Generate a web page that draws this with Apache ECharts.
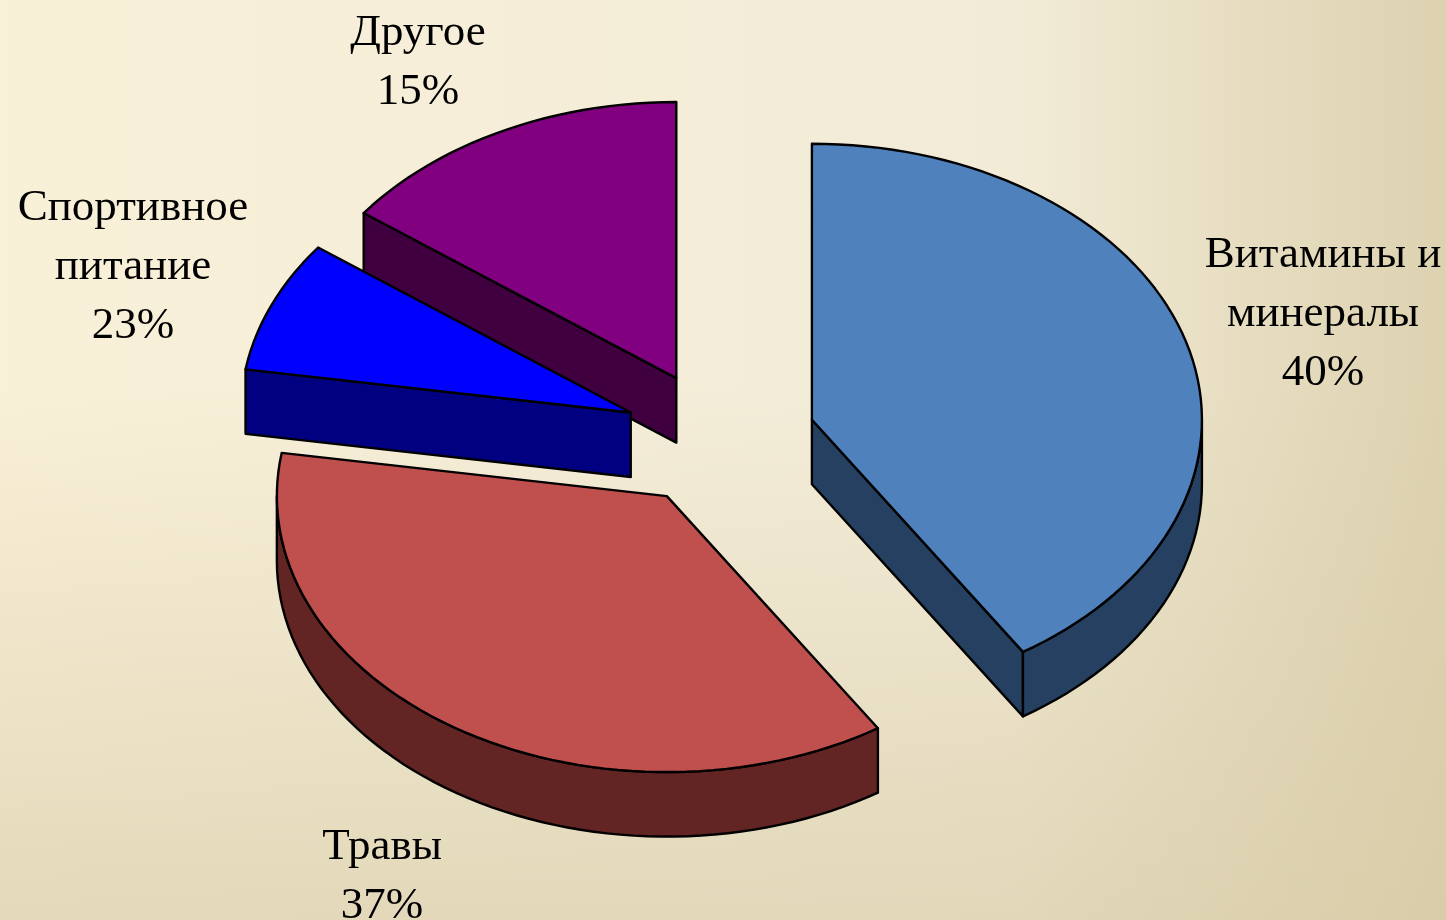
<!DOCTYPE html>
<html>
<head>
<meta charset="utf-8">
<title>Chart</title>
<script src="https://cdn.jsdelivr.net/npm/echarts@6/dist/echarts.min.js"></script>
<style>
  html, body { margin: 0; padding: 0; }
  #main {
    width: 1446px;
    height: 920px;
    background:
      linear-gradient(to right, rgba(214, 201, 163, 0) 70%, rgba(214, 201, 163, 0.72) 100%),
      linear-gradient(to bottom, rgba(216, 204, 168, 0) 42%, rgba(216, 204, 168, 0.64) 100%),
      linear-gradient(to right, #F9F0D8 0%, #F3ECD8 60%, #F0E9D2 100%);
  }
</style>
</head>
<body>
<div id="main"></div>
<script>
// data
const categories = ['Витамины и\nминералы', 'Травы', 'Спортивное\nпитание', 'Другое'];
const sliceShares = [40.9, 36.6, 7.7, 14.8];   // size of the slice as drawn
const labelPercents = [40, 37, 23, 15];        // what the label says (23 does not match its slice)

const topColors = ['#4F81BD', '#C0504D', '#0000FF', '#800080'];
const sideColors = ['#254061', '#632523', '#000080', '#400040'];

// layout, px
const W = 1446, H = 920;
const CX = 719.5, CY = 439;  // centre of the pie before exploding
const RX = 390, RY = 276;    // top ellipse
const DEPTH = 64.5 / RY;     // thickness, in ellipse units
const EXPLODE = 0.247;
const labelPos = [[1323, 314], [382, 877], [133, 267], [418, 63]];
const paintOrder = [1, 2, 3, 0];  // Другое goes under the small blue slice

const pt = (api, ox, oy, deg, r, d) => {
  const a = deg * Math.PI / 180;
  return api.coord([ox + r * Math.sin(a), oy + r * Math.cos(a) - d]);
};

// points along the rim between two angles, clockwise from 12 o'clock
const rim = (api, ox, oy, from, to, d) => {
  const n = Math.max(2, Math.ceil(Math.abs(to - from) / 2));
  const pts = [];
  for (let i = 0; i <= n; i++) pts.push(pt(api, ox, oy, from + (to - from) * i / n, 1, d));
  return pts;
};

function renderSlice(params, api) {
  const i = params.dataIndex;
  const start = sliceShares.slice(0, i).reduce((s, v) => s + v, 0) * 3.6;
  const end = start + sliceShares[i] * 3.6;
  const mid = (start + end) / 2 * Math.PI / 180;
  const ox = EXPLODE * Math.sin(mid), oy = EXPLODE * Math.cos(mid);
  const side = sideColors[i];
  const children = [];

  const poly = (points, fill) => ({
    type: 'polygon',
    z2: paintOrder[i],
    shape: { points },
    style: { fill, stroke: '#000', lineWidth: 2.4, lineJoin: 'round' }
  });

  const cutFace = deg => poly([
    pt(api, ox, oy, 0, 0, 0), pt(api, ox, oy, deg, 1, 0),
    pt(api, ox, oy, deg, 1, DEPTH), pt(api, ox, oy, 0, 0, DEPTH)
  ], side);

  // only the faces turned to the viewer
  if (Math.sin(start * Math.PI / 180) < -1e-6) children.push(cutFace(start));
  if (Math.sin(end * Math.PI / 180) > 1e-6) children.push(cutFace(end));

  const wallFrom = Math.max(start, 90), wallTo = Math.min(end, 270);
  if (wallTo > wallFrom) {
    const wall = rim(api, ox, oy, wallFrom, wallTo, 0)
      .concat(rim(api, ox, oy, wallTo, wallFrom, DEPTH));
    children.push(poly(wall, side));
  }

  const top = [pt(api, ox, oy, 0, 0, 0)].concat(rim(api, ox, oy, start, end, 0));
  children.push(poly(top, topColors[i]));

  return { type: 'group', children };
}

const chart = echarts.init(document.getElementById('main'), null, { renderer: 'canvas' });
chart.setOption({
  animation: false,
  backgroundColor: 'transparent',
  grid: { left: 0, right: 0, top: 0, bottom: 0 },
  // axes in ellipse units, y grows upward and is squashed by RY
  xAxis: { type: 'value', show: false, min: -CX / RX, max: (W - CX) / RX },
  yAxis: { type: 'value', show: false, min: (CY - H) / RY, max: CY / RY },
  series: [{
    type: 'custom',
    coordinateSystem: 'cartesian2d',
    clip: false,
    silent: true,
    data: sliceShares.map((v, i) => [i, v]),
    encode: { x: 0, y: 1 },
    renderItem: renderSlice,
    z: 2
  }],
  graphic: categories.map((c, i) => ({
    type: 'text',
    x: labelPos[i][0],
    y: labelPos[i][1],
    z: 10,
    style: {
      text: c + '\n' + labelPercents[i] + '%',
      fill: '#000',
      font: '45px "Liberation Serif"',
      lineHeight: 59,
      align: 'center',
      verticalAlign: 'middle'
    }
  }))
});
</script>
</body>
</html>
